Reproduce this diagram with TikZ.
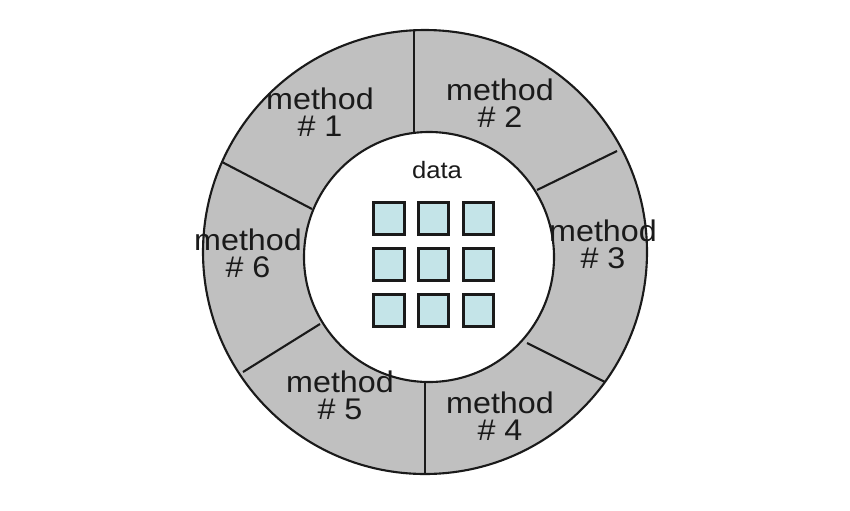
\documentclass[tikz,border=0pt]{standalone}
\usepackage{fontspec}
\setmainfont{Liberation Sans}
\newfontfamily\wideface[FakeStretch=1.08]{Liberation Sans}
\usepackage{tikz}
\usetikzlibrary{positioning}
\definecolor{ringgray}{HTML}{C0C0C0}
\definecolor{cellblue}{HTML}{C4E4E8}
\definecolor{inkblack}{HTML}{1A1A1A}
\tikzset{
  % ring
  rg/.style={fill=ringgray,even odd rule},
  rl/.style={draw=inkblack,line width=1.2pt},
  dv/.style={draw=inkblack,line width=1.2pt},
  ml/.style={align=center,inner sep=0pt,text=inkblack,
             font=\wideface\fontsize{17pt}{15.5pt}\selectfont},
  % data
  dl/.style={inner sep=0pt,text=inkblack,font=\wideface\fontsize{13.5pt}{15pt}\selectfont},
  cell/.style={rectangle,draw=inkblack,fill=cellblue,line width=1.7pt,
               inner sep=0pt,minimum width=6.1mm,minimum height=6.4mm},
}
\begin{document}
\begin{tikzpicture}[x=0.2mm,y=-0.2mm]
  \useasboundingbox (0,0) rectangle (850,510);
  \coordinate (oc) at (425,252);
  \coordinate (ic) at (429,257);
  \fill[rg] (oc) circle[radius=222] (ic) circle[radius=125];
  \draw[rl] (oc) circle[radius=222];
  \draw[rl] (ic) circle[radius=125];
  % dividers
  \draw[dv] (414,31) -- (414,132);
  \draw[dv] (617,151) -- (537,190);
  \draw[dv] (527,343) -- (605,382);
  \draw[dv] (425,382) -- (425,474);
  \draw[dv] (320,324) -- (243,372);
  \draw[dv] (222,162) -- (312,209);
  % labels
  \node[ml] (m1) at (320,112) {method\\\# 1};
  \node[ml] (m2) at (500,103) {method\\\# 2};
  \node[ml] (m3) at (603,244) {method\\\# 3};
  \node[ml] (m4) at (500,416) {method\\\# 4};
  \node[ml] (m5) at (340,395) {method\\\# 5};
  \node[ml] (m6) at (248,253) {method\\\# 6};
  \node[dl] (data) at (437,170) {data};
  \node[cell] (c11) at (389,218.5) {};
  \node[cell] (c12) at (433.5,218.5) {};
  \node[cell] (c13) at (478.5,218.5) {};
  \node[cell] (c21) at (389,264.5) {};
  \node[cell] (c22) at (433.5,264.5) {};
  \node[cell] (c23) at (478.5,264.5) {};
  \node[cell] (c31) at (389,310.5) {};
  \node[cell] (c32) at (433.5,310.5) {};
  \node[cell] (c33) at (478.5,310.5) {};
\end{tikzpicture}
\end{document}
